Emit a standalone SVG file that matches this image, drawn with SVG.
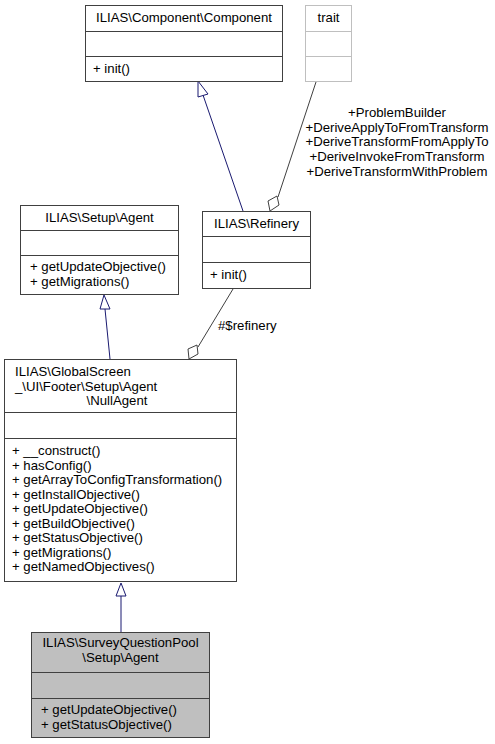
<svg xmlns="http://www.w3.org/2000/svg" width="495" height="744" viewBox="0 0 495 744">
<style>
text{font-family:"Liberation Sans",Arial,sans-serif;font-size:13.2px;fill:#000}
.c{text-anchor:middle}
.box{fill:#fff;stroke:#404040;stroke-width:1}
.cur{fill:#bfbfbf;stroke:#404040;stroke-width:1}
.tr{fill:#fff;stroke:#bfbfbf;stroke-width:1}
.sep{stroke:#404040;stroke-width:1}
.sept{stroke:#bfbfbf;stroke-width:1}
.inh{fill:none;stroke:#191970;stroke-width:1}
.inhh{fill:#fff;stroke:#191970;stroke-width:1}
.use{fill:none;stroke:#404040;stroke-width:1}
.useh{fill:#fff;stroke:#404040;stroke-width:1}
</style>
<rect width="495" height="744" fill="#fff"/>
<g id="edges">
  <path class="inh" d="M243,211 L203,95"/>
  <polygon class="inhh" points="198,81 208,94 198,97"/>
  <path class="use" d="M316,82 L278,197"/>
  <polygon class="useh" points="270,211 268,201 277,196 279,205"/>
  <text class="c" x="397" y="117">+ProblemBuilder</text>
  <text class="c" x="397" y="132">+DeriveApplyToFromTransform</text>
  <text class="c" x="397" y="146">+DeriveTransformFromApplyTo</text>
  <text class="c" x="397" y="161">+DeriveInvokeFromTransform</text>
  <text class="c" x="397" y="176">+DeriveTransformWithProblem</text>
  <path class="inh" d="M110,359 L105,309"/>
  <polygon class="inhh" points="104,295 110,309 100,309"/>
  <path class="use" d="M233,289 L198,347"/>
  <polygon class="useh" points="189,359 188,349 197,345 198,354"/>
  <text x="218" y="330">#$refinery</text>
  <path class="inh" d="M121,632 L121,596"/>
  <polygon class="inhh" points="121,583 126,596 116,596"/>
</g>
<g id="component">
  <rect class="box" x="85.5" y="5.5" width="197" height="76"/>
  <line class="sep" x1="85.5" y1="31.5" x2="282.5" y2="31.5"/>
  <line class="sep" x1="85.5" y1="56.5" x2="282.5" y2="56.5"/>
  <text class="c" x="184" y="22">ILIAS\Component\Component</text>
  <text x="93" y="73">+ init()</text>
</g>
<g id="trait">
  <rect class="tr" x="305.5" y="5.5" width="46" height="76"/>
  <line class="sept" x1="305.5" y1="31.5" x2="351.5" y2="31.5"/>
  <line class="sept" x1="305.5" y1="56.5" x2="351.5" y2="56.5"/>
  <text class="c" x="328.5" y="22">trait</text>
</g>
<g id="setupAgent">
  <rect class="box" x="20.5" y="205.5" width="158" height="89"/>
  <line class="sep" x1="20.5" y1="230.5" x2="178.5" y2="230.5"/>
  <line class="sep" x1="20.5" y1="255.5" x2="178.5" y2="255.5"/>
  <text class="c" x="99.5" y="222">ILIAS\Setup\Agent</text>
  <text x="30" y="271">+ getUpdateObjective()</text>
  <text x="30" y="286">+ getMigrations()</text>
</g>
<g id="refinery">
  <rect class="box" x="202.5" y="211.5" width="108" height="77"/>
  <line class="sep" x1="202.5" y1="236.5" x2="310.5" y2="236.5"/>
  <line class="sep" x1="202.5" y1="262.5" x2="310.5" y2="262.5"/>
  <text class="c" x="256.5" y="228">ILIAS\Refinery</text>
  <text x="210" y="279">+ init()</text>
</g>
<g id="nullAgent">
  <rect class="box" x="4.5" y="359.5" width="232" height="222"/>
  <line class="sep" x1="4.5" y1="412.5" x2="236.5" y2="412.5"/>
  <line class="sep" x1="4.5" y1="438.5" x2="236.5" y2="438.5"/>
  <text x="15" y="376">ILIAS\GlobalScreen</text>
  <text x="15" y="391">_\UI\Footer\Setup\Agent</text>
  <text class="c" x="117" y="405">\NullAgent</text>
  <text x="12" y="455">+ __construct()</text>
  <text x="12" y="469.5">+ hasConfig()</text>
  <text x="12" y="484">+ getArrayToConfigTransformation()</text>
  <text x="12" y="498.5">+ getInstallObjective()</text>
  <text x="12" y="513">+ getUpdateObjective()</text>
  <text x="12" y="527.5">+ getBuildObjective()</text>
  <text x="12" y="542">+ getStatusObjective()</text>
  <text x="12" y="556.5">+ getMigrations()</text>
  <text x="12" y="571">+ getNamedObjectives()</text>
</g>
<g id="sqpAgent">
  <rect class="cur" x="31.5" y="632.5" width="178" height="105"/>
  <line class="sep" x1="31.5" y1="672.5" x2="209.5" y2="672.5"/>
  <line class="sep" x1="31.5" y1="698.5" x2="209.5" y2="698.5"/>
  <text class="c" x="120.5" y="647">ILIAS\SurveyQuestionPool</text>
  <text class="c" x="120.5" y="662">\Setup\Agent</text>
  <text x="41" y="714">+ getUpdateObjective()</text>
  <text x="41" y="729">+ getStatusObjective()</text>
</g>
</svg>
